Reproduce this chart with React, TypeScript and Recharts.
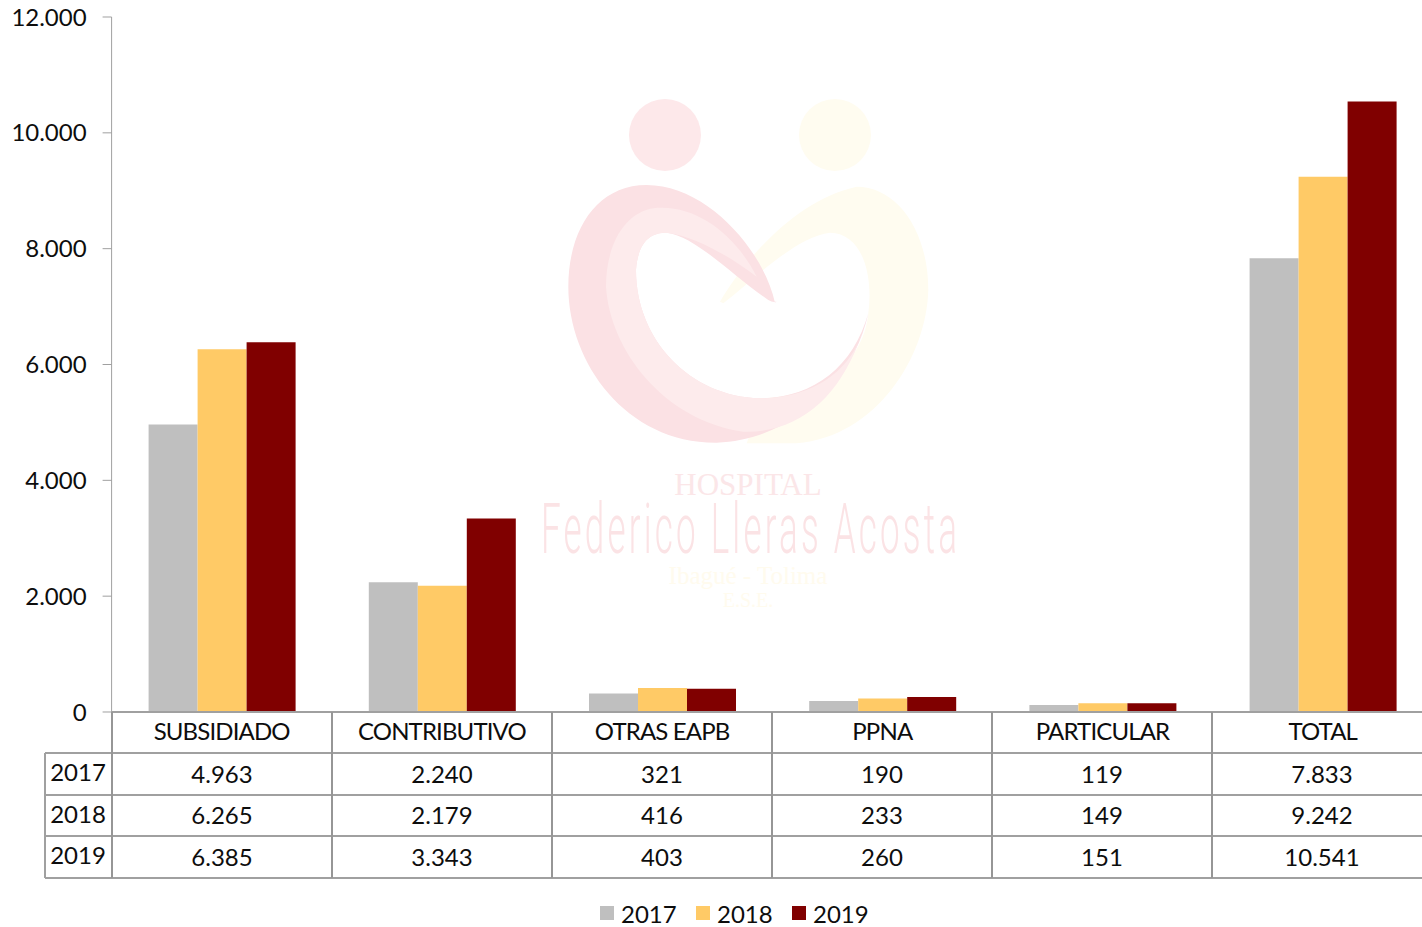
import { BarChart, Bar, XAxis, YAxis, Legend } from 'recharts'

const categories = ['SUBSIDIADO', 'CONTRIBUTIVO', 'OTRAS EAPB', 'PPNA', 'PARTICULAR', 'TOTAL']
const values2017 = [4963, 2240, 321, 190, 119, 7833]
const values2018 = [6265, 2179, 416, 233, 149, 9242]
const values2019 = [6385, 3343, 403, 260, 151, 10541]
const yTicks = [0, 2000, 4000, 6000, 8000, 10000, 12000]
const years = ['2017', '2018', '2019']
const yearValues = [values2017, values2018, values2019]
const yearColors = ['#BFBFBF', '#FFCA66', '#800000']

const FONT = 'Lato, sans-serif'
const FONT_SIZE = 24
const GRID = '#a0a0a0'
const TEXT = '#0d0d0d'

const data = categories.map((name, i) => ({
  name,
  y2017: values2017[i],
  y2018: values2018[i],
  y2019: values2019[i],
}))

// Thousands separator is a dot, as in the source
const fmt = (v: number) => String(v).replace(/\B(?=(\d{3})+$)/g, '.')

// Faded hospital logo behind the plot, traced in the reference's zoomed coordinates
function Watermark() {
  return (
    <svg width={1422} height={927} style={{ position: 'absolute', left: 0, top: 0 }}>
      <g transform="translate(530,90) scale(0.3333)">
        <circle cx={915} cy={135} r={108} fill="#fffcf0" />
        <path
          d="M570 635 C650 500 800 330 980 290 C1100 290 1195 420 1195 600 C1190 800 1040 1040 800 1060 L650 1060 L700 925 C850 920 1000 830 1015 670 C1030 560 1000 430 900 428 C800 440 680 560 580 640 Z"
          fill="#fffcf0"
        />
        <circle cx={405} cy={135} r={108} fill="#fde8ea" />
        <path
          d="M735 638 C700 480 530 285 350 285 C200 285 115 420 115 590 C115 820 290 1060 560 1058 C780 1050 970 880 1015 670 C970 830 850 925 690 925 C480 920 318 750 318 540 C325 450 365 428 410 428 C500 440 610 560 715 630 Q735 642 745 630 Z"
          fill="#fbe1e4"
        />
        <path
          d="M680 560 C620 440 500 340 370 355 C280 370 228 470 228 590 C240 780 400 990 640 1025 C800 1030 920 930 985 760 C930 870 820 925 690 925 C480 920 318 750 318 540 C325 450 365 428 410 428 C500 440 600 500 680 560 Z"
          fill="#fdebec"
        />
      </g>
      <text x={748} y={495} textAnchor="middle" fontFamily="Liberation Serif" fontSize={31} fill="#fbe6e8">
        HOSPITAL
      </text>
      <text
        transform="translate(541,553) scale(0.5,1)"
        textLength={832}
        lengthAdjust="spacing"
        fontFamily="Roboto"
        fontWeight={300}
        fontSize={70}
        fill="#fbe3e5"
      >
        Federico Lleras Acosta
      </text>
      <text x={748} y={584} textAnchor="middle" fontFamily="Liberation Serif" fontSize={25} fill="#fffbee">
        Ibagué - Tolima
      </text>
      <text x={748} y={607} textAnchor="middle" fontFamily="Liberation Serif" fontSize={20} fill="#fffbee">
        E.S.E.
      </text>
    </svg>
  )
}

// Data table drawn under the plot, its last column runs off the page
function DataTable() {
  const left = 45
  const x0 = 112
  const cellW = 220
  const rows = [753, 795, 836, 878]
  const xEnd = 1422
  return (
    <svg width={1422} height={927} style={{ position: 'absolute', left: 0, top: 0, pointerEvents: 'none' }}>
      {rows.map((y) => (
        <line key={y} x1={left} x2={xEnd} y1={y} y2={y} stroke={GRID} strokeWidth={2} />
      ))}
      <line x1={left} x2={left} y1={753} y2={878} stroke={GRID} strokeWidth={2} />
      {categories.map((_, i) => (
        <line key={i} x1={x0 + cellW * i} x2={x0 + cellW * i} y1={712} y2={878} stroke="#969696" strokeWidth={2} />
      ))}
      {years.map((yr, r) => (
        <g key={yr} fontFamily={FONT} fontSize={FONT_SIZE} fill={TEXT}>
          <text x={78} y={(rows[r] + rows[r + 1]) / 2 - 2.5} textAnchor="middle" dominantBaseline="central">
            {yr}
          </text>
          {yearValues[r].map((v, i) => (
            <text
              key={i}
              x={x0 + cellW * (i + 0.5)}
              y={(rows[r] + rows[r + 1]) / 2 - 1}
              textAnchor="middle"
              dominantBaseline="central"
            >
              {fmt(v)}
            </text>
          ))}
        </g>
      ))}
    </svg>
  )
}

function LegendContent({ payload }: any) {
  return (
    <div style={{ position: 'absolute', left: 600, top: 0, display: 'flex', fontFamily: FONT, fontSize: FONT_SIZE, color: TEXT }}>
      {(payload || []).map((p: any) => (
        <div key={p.value} style={{ display: 'flex', alignItems: 'center', width: 96, height: 30 }}>
          <span style={{ width: 14, height: 14, background: p.color, marginRight: 7, display: 'block' }} />
          {p.value}
        </div>
      ))}
    </div>
  )
}

export default function App() {
  return (
    <div style={{ position: 'absolute', left: 0, top: 0, width: 1422, height: 927, overflow: 'hidden', background: '#fff' }}>
      <Watermark />
      <div style={{ position: 'absolute', left: 0, top: 0 }}>
        <BarChart
          width={1432.8}
          height={927}
          data={data}
          margin={{ top: 17, right: 0, bottom: 0, left: 0 }}
          barGap={0}
          barSize={49}
        >
          <XAxis
            dataKey="name"
            height={215}
            interval={0}
            tickLine={false}
            tickMargin={5}
            axisLine={{ stroke: GRID, strokeWidth: 2 }}
            tick={{ fill: TEXT, fontSize: FONT_SIZE, fontFamily: FONT, letterSpacing: -0.85 }}
          />
          <YAxis
            width={111.6}
            domain={[0, 12000]}
            ticks={yTicks}
            interval={0}
            tickFormatter={fmt}
            tickSize={9}
            tickMargin={16}
            axisLine={{ stroke: GRID }}
            tickLine={{ stroke: GRID }}
            tick={{ fill: TEXT, fontSize: FONT_SIZE, fontFamily: FONT }}
          />
          <Legend
            verticalAlign="bottom"
            content={<LegendContent />}
            wrapperStyle={{ left: 0, top: 898, height: 0, width: 1422 }}
          />
          <Bar dataKey="y2017" name={years[0]} fill={yearColors[0]} isAnimationActive={false} />
          <Bar dataKey="y2018" name={years[1]} fill={yearColors[1]} isAnimationActive={false} />
          <Bar dataKey="y2019" name={years[2]} fill={yearColors[2]} isAnimationActive={false} />
        </BarChart>
      </div>
      <DataTable />
    </div>
  )
}
